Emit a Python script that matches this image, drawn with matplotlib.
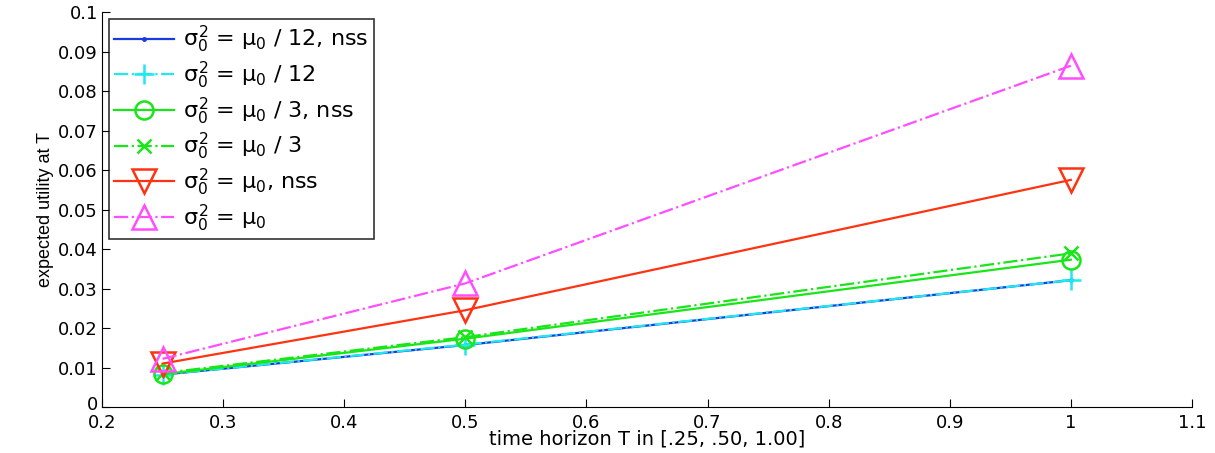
import matplotlib.pyplot as plt
import matplotlib.transforms as mtransforms
import numpy as np

plt.rcParams['font.family'] = ['DejaVu Sans']
plt.rcParams['mathtext.fontset'] = 'custom'
plt.rcParams['mathtext.rm'] = 'DejaVu Sans'
plt.rcParams['mathtext.it'] = 'DejaVu Sans'

# time horizons
T = [0.25, 0.50, 1.00]

# expected utility per setting
u_12_nss = [0.0082, 0.0157, 0.0321]
u_12 = [0.0082, 0.0158, 0.0321]
u_3_nss = [0.0083, 0.0173, 0.0373]
u_3 = [0.0086, 0.0177, 0.0389]
u_1_nss = [0.0110, 0.0245, 0.0575]
u_1 = [0.0122, 0.0313, 0.0864]

labels = [r'$\sigma_0^2$ = $\mu_0$ / 12, nss',
          r'$\sigma_0^2$ = $\mu_0$ / 12',
          r'$\sigma_0^2$ = $\mu_0$ / 3, nss',
          r'$\sigma_0^2$ = $\mu_0$ / 3',
          r'$\sigma_0^2$ = $\mu_0$, nss',
          r'$\sigma_0^2$ = $\mu_0$']

fig = plt.figure(figsize=(12.15, 4.53), dpi=100)
ax = fig.add_axes([0.084, 0.1015, 0.897, 0.872])

lw = 1.6
mew = 1.8
ax.plot(T, u_12_nss, color='#1a3be0', linestyle='-', marker='.', markersize=5, linewidth=lw, label=labels[0])
ax.plot(T, u_12, color='#1ee8f0', linestyle='-.', marker='+', markersize=14, markeredgewidth=mew, linewidth=lw, label=labels[1])
ax.plot(T, u_3_nss, color='#19e619', linestyle='-', marker='o', markersize=13, markerfacecolor='none', markeredgewidth=mew, linewidth=lw, label=labels[2])
ax.plot(T, u_3, color='#19e619', linestyle='-.', marker='x', markersize=10, markeredgewidth=mew, linewidth=lw, label=labels[3])
ax.plot(T, u_1_nss, color='#ff3311', linestyle='-', marker='v', markersize=17, markerfacecolor='none', markeredgewidth=mew, linewidth=lw, label=labels[4])
ax.plot(T, u_1, color='#ff4dff', linestyle='-.', marker='^', markersize=17, markerfacecolor='none', markeredgewidth=mew, linewidth=lw, label=labels[5])

ax.set_xlim(0.2, 1.1)
ax.set_ylim(0, 0.1)
ax.set_xticks(np.arange(0.2, 1.11, 0.1))
ax.set_xticklabels(['0.2', '0.3', '0.4', '0.5', '0.6', '0.7', '0.8', '0.9', '1', '1.1'])
ax.set_yticks(np.arange(0, 0.101, 0.01))
ax.set_yticklabels(['0', '0.01', '0.02', '0.03', '0.04', '0.05', '0.06', '0.07', '0.08', '0.09', '0.1'])
ax.tick_params(direction='in', length=6, labelsize=13)
ax.tick_params(axis='x', pad=5)
ax.tick_params(axis='y', pad=3)
ax.spines['top'].set_visible(False)
ax.spines['right'].set_visible(False)

# nudge the "0" label up a little so it clears "0.2"
lab0 = ax.get_yticklabels()[0]
lab0.set_transform(lab0.get_transform() + mtransforms.ScaledTranslation(0, 3 / 72, fig.dpi_scale_trans))

ax.set_xlabel('time horizon T in [.25, .50, 1.00]', fontsize=14)
ax.xaxis.set_label_coords(0.5, -0.058)
ax.set_ylabel('expected utility at T', fontsize=13, labelpad=3,
              family=['Liberation Sans', 'DejaVu Sans'])

leg = ax.legend(loc='upper left', fontsize=16, frameon=True, fancybox=False,
                edgecolor='black', handlelength=2.7, borderaxespad=0.3,
                labelspacing=0.2, borderpad=0.25, handletextpad=0.4)
leg.get_frame().set_linewidth(1.2)

plt.savefig('out.png', dpi=100)
